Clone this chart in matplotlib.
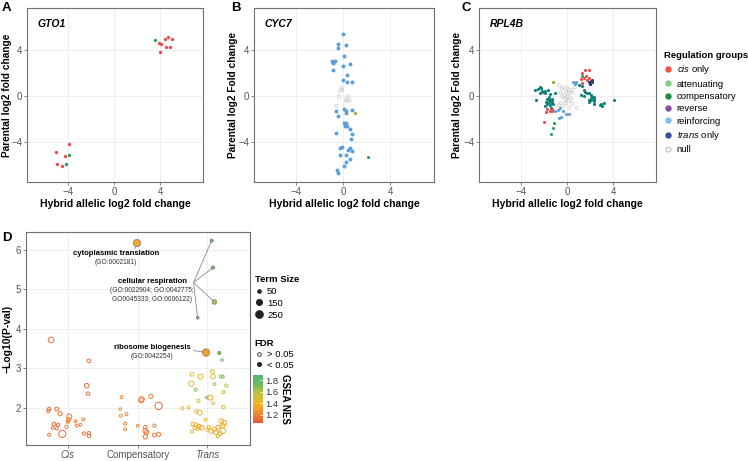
import numpy as np
import matplotlib
matplotlib.use('Agg')
import matplotlib.pyplot as plt
from matplotlib.lines import Line2D
from matplotlib.colors import LinearSegmentedColormap, Normalize
from matplotlib.cm import ScalarMappable

plt.rcParams['font.family'] = ['Liberation Sans', 'DejaVu Sans']
plt.rcParams['mathtext.fontset'] = 'custom'
plt.rcParams['mathtext.it'] = 'Liberation Sans:italic'
plt.rcParams['mathtext.rm'] = 'Liberation Sans'

# ---- panels A-C: (hybrid allelic log2FC, parental log2FC) per regulation group
GTO1_CIS = [(3.89, 4.62), (4.06, 4.56), (3.98, 3.89), (4.39, 5.00), (4.62, 5.18), (5.03, 5.03),
            (4.50, 4.33), (4.80, 4.33), (-3.95, -4.21), (-5.11, -4.85), (-4.30, -5.20),
            (-4.97, -5.96), (-4.59, -6.08)]
GTO1_COMP = [(3.54, 4.94), (-3.92, -5.15), (-4.24, -5.96)]

CYC7_REINF = [(-0.03, 5.47), (-0.44, 4.56), (0.18, 4.50), (-0.44, 4.18), (0.03, 3.50), (-0.99, 3.06),
              (-0.70, 3.09), (-0.88, 2.91), (0.00, 2.65), (0.58, 2.82), (-0.85, 2.26), (0.32, 1.85),
              (0.00, 1.44), (0.32, 1.21), (0.70, 1.21), (0.03, -1.12), (0.23, -1.26), (0.20, -1.50),
              (0.76, -1.21), (-0.67, -1.29), (-0.50, -1.76), (0.09, -2.38), (0.26, -2.38),
              (0.32, -2.62), (0.15, -2.62), (0.55, -2.85), (0.73, -3.32), (0.64, -3.71),
              (-0.67, -3.18), (-0.15, -4.41), (-0.26, -4.50), (0.55, -4.56), (0.41, -4.74),
              (0.70, -4.79), (0.26, -5.15), (-0.29, -5.18), (0.53, -5.47), (0.18, -5.76),
              (0.06, -6.12), (-0.58, -6.47), (-0.44, -6.74)]
CYC7_ATT = [(1.02, -1.44)]
CYC7_COMP = [(2.10, -5.29)]
CYC7_NULL = [(-0.18, 0.71), (-0.09, 0.56), (-0.26, 0.47), (0.35, 0.00), (-0.38, -0.06),
             (0.32, -0.29), (0.55, -0.38), (-0.61, -0.85), (0.20, -0.38)]

RPL4B_CIS = [(1.53, 2.28), (1.93, 2.25), (1.32, 2.01), (1.69, 1.78), (1.44, 1.60), (1.87, 1.60),
             (1.23, 1.48), (1.75, 1.42), (1.29, 1.19), (-1.69, -1.10), (-1.32, -1.10),
             (-1.47, -1.33), (-1.78, -1.42), (-1.29, -1.33), (-2.02, -2.22)]
RPL4B_TRANS = [(1.90, 1.27), (2.06, 1.36), (2.21, 1.21), (1.96, 1.07), (2.15, 1.39), (2.00, 1.10)]
RPL4B_COMP = [(1.29, 1.78), (-1.10, -2.31), (-1.20, -2.76), (-1.35, -3.29)]
RPL4B_ATT = [(-1.20, 1.21)]
RPL4B_REINF = [(0.52, 1.21), (0.77, 1.21), (0.67, 1.07), (-0.77, -1.19), (-1.01, -1.33),
               (-0.64, -1.07), (-0.31, -1.33), (-0.09, -1.54), (0.15, -1.60), (-0.55, -1.78),
               (-0.71, -1.93)]
RPL4B_OTHER = [(-2.79, 0.53), (-2.48, 0.59), (-2.36, 0.77), (-2.24, 0.68), (-2.18, 0.47),
               (-2.09, 0.36), (-1.87, 0.24), (-2.36, 0.30), (-1.93, 0.47), (-1.63, 0.53),
               (-1.44, 0.18), (-1.07, 0.24), (-2.70, -0.30), (-1.63, -0.27), (-1.47, -0.36),
               (-1.32, -0.21), (-1.78, -0.50), (-1.56, -0.50), (-1.32, -0.59), (-1.69, -0.71),
               (-1.47, -0.80), (-1.17, -0.65), (-1.93, -0.89), (-1.38, -1.01), (-1.56, -0.06),
               (-1.26, -0.41), (-1.75, -0.21), (1.44, 0.53), (1.60, 0.39), (1.20, 0.09),
               (1.50, 0.00), (1.75, 0.24), (1.90, 0.30), (2.06, 0.09), (2.21, -0.06),
               (2.30, -0.21), (2.06, -0.36), (2.36, -0.41), (2.30, -0.65), (1.90, -0.30),
               (1.93, -0.50), (2.98, -0.65), (2.82, -0.80), (3.04, -0.89), (3.22, -0.59),
               (4.05, -0.30), (1.32, 0.89), (1.07, 0.98), (2.12, -0.12), (2.36, -0.06)]
RPL4B_NULL = [(-0.71, 0.98), (-0.25, 0.77), (0.06, 0.68), (0.37, 0.53), (0.67, 0.77), (-0.09, 0.39),
              (-0.55, 0.30), (0.21, 0.24), (-0.40, -0.06), (0.06, -0.06), (0.37, -0.21),
              (-0.15, -0.36), (0.21, -0.41), (-0.55, -0.59), (-0.71, -0.80), (-0.09, -0.65),
              (0.46, -0.65), (0.83, -1.01), (0.21, -1.01), (-0.34, -0.89), (-0.46, 0.68),
              (0.52, 0.30), (0.15, 0.47), (-0.25, 0.09), (-0.03, -0.21)]

GROUPS = ['cis only', 'attenuating', 'compensatory', 'reverse', 'reinforcing', 'trans only', 'null']
LEGEND_COLORS = ['#F0524A', '#8DCB8E', '#1E8B45', '#8B4BA0', '#84BDE8', '#3B4D9E', '#C4C4C4']
PT = {'cis': '#EF4A4F', 'att': '#93A92B', 'comp': '#24A35A', 'reinf': '#5A9FD8',
      'trans': '#2C3E66', 'other': '#0E8078', 'null': '#C8C8C8'}

# ---- panel D: GO term enrichment (x = jittered category position)
D_CATS = ['Cis', 'Compensatory', 'Trans']
D_X = [0.76, 1.30, 1.27, 1.29, 0.73, 0.72, 0.84, 0.89, 1.02, 1.01, 1.00, 1.11, 1.22, 0.80, 0.86,
       0.78, 0.84, 0.98, 1.18, 0.92, 0.73, 1.23, 1.30, 1.30, 1.13,
       1.77, 2.05, 2.19, 2.30, 1.75, 1.76, 1.84, 1.82, 1.82, 2.00, 2.11, 2.24, 2.11, 2.11, 2.24,
       2.30, 2.06, 2.13,
       2.78, 2.90, 3.07, 3.08, 3.22, 2.77, 3.10, 3.27, 2.83, 3.23, 3.04, 2.99, 2.87, 3.08, 2.73,
       3.23, 2.89, 2.84, 2.97, 3.20, 2.79, 2.84, 2.88, 2.82, 2.86, 2.92, 3.02, 3.10, 3.15, 3.22,
       3.24, 3.05, 3.12, 3.18, 3.22, 2.78, 3.15, 3.00, 2.64, 3.19, 3.21]
D_Y = [3.72, 3.19, 2.56, 2.36, 1.97, 1.92, 1.97, 1.85, 1.78, 1.70, 1.65, 1.66, 1.71, 1.59, 1.57,
       1.49, 1.48, 1.52, 1.57, 1.34, 1.32, 1.35, 1.36, 1.29, 1.55,
       2.27, 2.19, 2.29, 2.05, 1.97, 1.80, 1.84, 1.60, 1.46, 1.55, 1.51, 1.55, 1.42, 1.27, 1.31,
       1.33, 2.22, 1.38,
       2.85, 2.79, 2.92, 2.79, 2.79, 2.61, 2.60, 2.56, 2.46, 2.40, 2.26, 2.26, 2.18, 2.12, 2.01,
       2.02, 1.88, 1.91, 1.70, 1.67, 1.59, 1.57, 1.53, 1.50, 1.47, 1.50, 1.51, 1.46, 1.51, 1.55,
       1.62, 1.41, 1.38, 1.35, 1.42, 1.40, 1.29, 1.45, 1.99, 2.79, 3.21]
D_SIZE = [150, 60, 100, 60, 60, 50, 70, 80, 120, 70, 50, 40, 40, 60, 50,
          40, 50, 50, 40, 250, 40, 50, 50, 60, 40,
          40, 110, 80, 250, 30, 40, 40, 40, 40, 30, 60, 50, 110, 90, 70,
          80, 120, 80,
          70, 120, 60, 100, 40, 130, 40, 50, 40, 40, 120, 30, 50, 40, 40,
          50, 120, 50, 40, 100, 60, 70, 80, 70, 60, 90, 60, 70, 80, 90,
          130, 80, 90, 80, 150, 40, 50, 50, 50, 40, 30]
D_NES = [1.16, 1.15, 1.14, 1.15, 1.16, 1.15, 1.14, 1.17, 1.15, 1.18, 1.15, 1.17, 1.19, 1.15, 1.14,
         1.17, 1.15, 1.18, 1.20, 1.14, 1.17, 1.15, 1.14, 1.15, 1.17,
         1.22, 1.17, 1.20, 1.14, 1.24, 1.20, 1.22, 1.20, 1.24, 1.22, 1.18, 1.17, 1.17, 1.15, 1.18,
         1.17, 1.18, 1.15,
         1.46, 1.40, 1.52, 1.46, 1.70, 1.38, 1.64, 1.56, 1.68, 1.58, 1.34, 1.70, 1.50, 1.52, 1.40,
         1.42, 1.38, 1.45, 1.40, 1.36, 1.34, 1.38, 1.33, 1.36, 1.38, 1.34, 1.40, 1.36, 1.32, 1.38,
         1.33, 1.36, 1.34, 1.32, 1.36, 1.42, 1.48, 1.44, 1.43, 1.70, 1.72]

D_SIG_X = [1.99, 2.98, 3.06, 3.08, 3.10, 2.86, 3.17]
D_SIG_Y = [6.17, 3.40, 6.23, 5.55, 4.68, 4.28, 3.39]
D_SIG_SIZE = [260, 260, 50, 50, 100, 40, 50]
D_SIG_NES = [1.33, 1.31, 1.78, 1.75, 1.62, 1.78, 1.70]

NES_MIN, NES_MAX = 1.06, 1.89
cmap = LinearSegmentedColormap.from_list(
    'nes', ['#E8523B', '#F08A2E', '#F4B52C', '#C9C23A', '#6CBB5F', '#4FB676'])
norm = Normalize(NES_MIN, NES_MAX)

W, H = 748, 461
fig = plt.figure(figsize=(W / 100, H / 100), dpi=100)


def box(l, t, r, b):
    return [l / W, 1 - b / H, (r - l) / W, (b - t) / H]


def style(ax):
    for s in ax.spines.values():
        s.set_color('#707070'); s.set_linewidth(0.8)
    ax.grid(True, color='#ECECEC', lw=0.6)
    ax.set_axisbelow(True)
    ax.tick_params(colors='#707070', labelcolor='#555555', labelsize=7, length=2, width=0.6, pad=1.5)


def pts(ax, data, color, s=5, hollow=False):
    xy = np.array(data)
    if hollow:
        ax.scatter(xy[:, 0], xy[:, 1], s=s, facecolors='none', edgecolors=color, linewidths=0.5, zorder=2)
    else:
        ax.scatter(xy[:, 0], xy[:, 1], s=s, color=color, linewidths=0, zorder=3)


axA = fig.add_axes(box(27, 8, 203, 182))
axB = fig.add_axes(box(254, 8, 434, 182))
axC = fig.add_axes(box(479, 8, 656, 182))

pts(axA, GTO1_CIS, PT['cis'], s=6); pts(axA, GTO1_COMP, PT['comp'], s=6)
pts(axB, CYC7_NULL, PT['null'], hollow=True)
pts(axB, CYC7_REINF, PT['reinf'], s=8); pts(axB, CYC7_ATT, PT['att']); pts(axB, CYC7_COMP, PT['comp'])
pts(axC, RPL4B_NULL, PT['null'], hollow=True)
pts(axC, RPL4B_OTHER, PT['other']); pts(axC, RPL4B_REINF, PT['reinf'])
pts(axC, RPL4B_CIS, PT['cis']); pts(axC, RPL4B_COMP, PT['comp'])
pts(axC, RPL4B_ATT, PT['att']); pts(axC, RPL4B_TRANS, PT['trans'])

for ax, gene, ylab, lx in [(axA, 'GTO1', 'Parental log2 fold change', -0.088),
                           (axB, 'CYC7', 'Parental log2 Fold change', -0.090),
                           (axC, 'RPL4B', 'Parental log2 Fold change', -0.098)]:
    style(ax)
    ax.set_xlim(-7.6, 7.7); ax.set_ylim(-7.5, 7.7)
    ax.set_xticks([-4, 0, 4]); ax.set_yticks([-4, 0, 4])
    ax.set_xlabel('Hybrid allelic log2 fold change', fontsize=7.5, fontweight='bold', labelpad=1.5)
    ax.set_ylabel(ylab, fontsize=7.3, fontweight='bold')
    ax.yaxis.set_label_coords(lx, 0.5)
    ax.text(0.06, 0.91, gene, transform=ax.transAxes, fontsize=7.5, fontweight='bold',
            style='italic', va='center', ha='left')

handles = [Line2D([], [], ls='', marker='o', ms=3.6, color=c) for c in LEGEND_COLORS[:-1]]
handles.append(Line2D([], [], ls='', marker='o', ms=3.6, mfc='none', mec=LEGEND_COLORS[-1], mew=0.9))
labels = [r'$\it{cis}$ only', 'attenuating', 'compensatory', 'reverse', 'reinforcing',
          r'$\it{trans}$ only', 'null']
axC.legend(handles, labels, title='Regulation groups', loc='upper left', bbox_to_anchor=(1.02, 0.78),
           frameon=False, fontsize=6.8, title_fontproperties={'weight': 'bold', 'size': 6.8},
           handlelength=0.8, handletextpad=0.5, labelspacing=0.35, alignment='left', borderpad=0)

# ---- panel D
axD = fig.add_axes(box(26, 232, 250, 445))
style(axD)
axD.scatter(D_X, D_Y, s=np.array(D_SIZE) * 0.11, facecolors='none',
            edgecolors=cmap(norm(np.array(D_NES))), linewidths=0.7, zorder=3)
axD.scatter(D_SIG_X, D_SIG_Y, s=np.array(D_SIG_SIZE) * 0.11, c=cmap(norm(np.array(D_SIG_NES))),
            edgecolors='#666666', linewidths=0.4, zorder=4)

lc = dict(color='#8A8A8A', lw=0.6, zorder=2)
axD.plot([1.96, 1.99], [6.03, 6.17], **lc)
for i in range(2, 6):
    axD.plot([2.80, D_SIG_X[i]], [5.17, D_SIG_Y[i]], **lc)
axD.plot([2.80, 2.98], [3.45, 3.40], **lc)

axD.text(1.69, 5.90, 'cytoplasmic translation', fontsize=5.6, fontweight='bold', ha='center', va='center')
axD.text(1.69, 5.68, '(GO:0002181)', fontsize=4.8, ha='center', va='center', color='#333333')
axD.text(2.21, 5.19, 'cellular respiration', fontsize=5.6, fontweight='bold', ha='center', va='center')
axD.text(2.21, 4.97, '(GO:0022904; GO:0042775;', fontsize=4.8, ha='center', va='center', color='#333333')
axD.text(2.21, 4.75, 'GO0045333; GO:0006122)', fontsize=4.8, ha='center', va='center', color='#333333')
axD.text(2.21, 3.52, 'ribosome biogenesis', fontsize=5.6, fontweight='bold', ha='center', va='center')
axD.text(2.21, 3.30, '(GO:0042254)', fontsize=4.8, ha='center', va='center', color='#333333')

axD.set_xlim(0.4, 3.61); axD.set_ylim(1.06, 6.45)
axD.set_xticks([1, 2, 3]); axD.set_yticks([2, 3, 4, 5, 6])
axD.set_xticklabels(D_CATS, fontsize=7)
axD.get_xticklabels()[0].set_style('italic'); axD.get_xticklabels()[2].set_style('italic')
axD.set_ylabel('\u2212Log10(P-val)', fontsize=7.5, fontweight='bold', labelpad=2)

size_h = [Line2D([], [], ls='', marker='o', ms=np.sqrt(v * 0.11), color='#222222') for v in (50, 150, 250)]
leg1 = axD.legend(size_h, ['50', '150', '250'], title='Term Size', loc='upper left',
                  bbox_to_anchor=(1.0, 0.82), frameon=False, fontsize=6.8,
                  title_fontproperties={'weight': 'bold', 'size': 6.8}, handlelength=0.9,
                  handletextpad=0.4, labelspacing=0.3, alignment='left', borderpad=0)
axD.add_artist(leg1)
fdr_h = [Line2D([], [], ls='', marker='o', ms=2.6, mfc='none', mec='#222222', mew=0.6),
         Line2D([], [], ls='', marker='o', ms=2.6, color='#222222')]
axD.legend(fdr_h, ['> 0.05', '< 0.05'], title='FDR', loc='upper left', bbox_to_anchor=(1.0, 0.52),
           frameon=False, fontsize=6.8, title_fontproperties={'weight': 'bold', 'size': 6.8},
           handlelength=0.9, handletextpad=0.4, labelspacing=0.2, alignment='left', borderpad=0)

cax = fig.add_axes(box(253, 375, 263, 423))
cb = fig.colorbar(ScalarMappable(norm=norm, cmap=cmap), cax=cax, ticks=[1.2, 1.4, 1.6, 1.8])
cb.outline.set_visible(False)
cax.tick_params(labelsize=6.8, colors='white', labelcolor='#333333', length=2.5, width=0.6,
                direction='in', pad=2)
cax.set_ylabel('GSEA NES', rotation=-90, fontsize=7, fontweight='bold', va='bottom', labelpad=1)

for letter, x, y in [('A', 2, 8), ('B', 231, 8), ('C', 461, 8), ('D', 2, 238)]:
    fig.text(x / W, 1 - y / H, letter, fontsize=9.5, fontweight='bold', ha='left', va='center')

fig.savefig('out.png', dpi=100)
